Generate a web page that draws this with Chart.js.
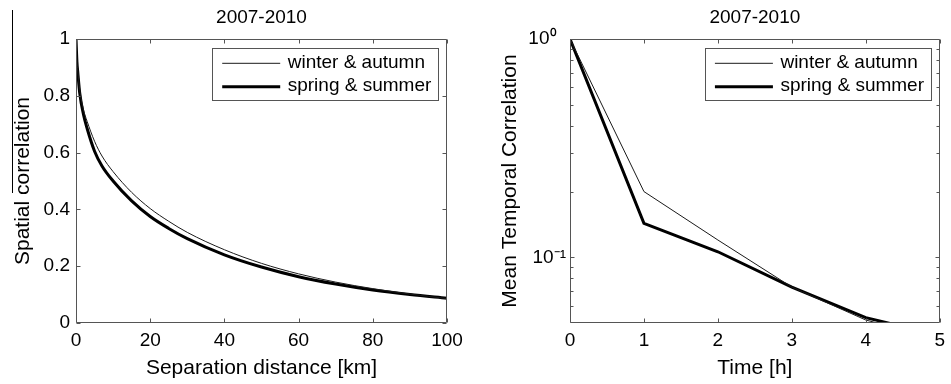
<!DOCTYPE html>
<html><head><meta charset="utf-8">
<script src="https://cdn.jsdelivr.net/npm/chart.js@4"></script>
<style>
body{margin:0;background:#fff;}
#wrap{position:relative;width:951px;height:384px;overflow:hidden;}
canvas{position:absolute;top:0;}
</style>
</head><body>
<div id="wrap">
<canvas id="c1" width="480" height="384" style="left:0"></canvas>
<canvas id="c2" width="471" height="384" style="left:480px"></canvas>
</div>
<script>
const FONT = '"Liberation Sans", Arial, Helvetica, sans-serif';

// ---- shared ----
const chartTitle = '2007-2010';
const seriesLabels = ['winter & autumn', 'spring & summer'];

// ---- left panel: spatial correlation ----
const distanceKm = [0, 0.25, 0.5, 1, 2, 3, 5, 7, 10, 15, 20, 25, 30, 40, 50, 60, 70, 80, 90, 100];
const spatialWinterAutumn = [1, 0.925, 0.887, 0.822, 0.752, 0.71, 0.64, 0.588, 0.533, 0.46, 0.403, 0.358, 0.319, 0.258, 0.21, 0.173, 0.144, 0.121, 0.102, 0.086];
const spatialSpringSummer = [1, 0.92, 0.88, 0.81, 0.735, 0.685, 0.605, 0.553, 0.50, 0.43, 0.375, 0.333, 0.297, 0.24, 0.197, 0.163, 0.137, 0.116, 0.1, 0.087];
const distanceTicks = [0, 20, 40, 60, 80, 100];
const spatialTicks = [0, 0.2, 0.4, 0.6, 0.8, 1];
const spatialTickLabels = ['0', '0.2', '0.4', '0.6', '0.8', '1'];

// ---- right panel: temporal correlation ----
const timeH = [0, 1, 2, 3, 4, 5];
const temporalWinterAutumn = [1, 0.2, 0.12, 0.073, 0.0516, 0.0422];
const temporalSpringSummer = [1, 0.143, 0.106, 0.073, 0.0529, 0.0439];
const timeTicks = [0, 1, 2, 3, 4, 5];
const timeTickLabels = ['0', '1', '2', '3', '4', '5'];
const temporalTicks = [0.1, 1];
const temporalTickLabels = ['10\u207B\u00B9', '10\u2070\u2002'];
const temporalMinorTicks = [0.06, 0.07, 0.08, 0.09, 0.2, 0.3, 0.4, 0.5, 0.6, 0.7, 0.8, 0.9];

const FRAME = '#555';

const framePlugin = {
  id: 'matlabFrame',
  afterDatasetsDraw(chart, args, opts) {
    const {ctx, chartArea: a} = chart;
    const xs = chart.scales.x, ys = chart.scales.y;
    ctx.save();
    ctx.strokeStyle = FRAME;
    ctx.lineWidth = 1;
    const L = Math.round(a.left) + 0.5, R = Math.round(a.right) - 0.5;
    const T = Math.round(a.top) + 0.5, B = Math.round(a.bottom) - 0.5;
    ctx.beginPath();
    ctx.rect(L, T, R - L, B - T);
    ctx.stroke();
    const major = 4, minor = 3;
    ctx.beginPath();
    (opts.xTicks || []).forEach(v => {
      const p = Math.round(xs.getPixelForValue(v)) + 0.5;
      ctx.moveTo(p, B); ctx.lineTo(p, B - major);
      ctx.moveTo(p, T); ctx.lineTo(p, T + major);
    });
    (opts.yTicks || []).forEach(v => {
      const p = Math.round(ys.getPixelForValue(v)) + 0.5;
      ctx.moveTo(L, p); ctx.lineTo(L + major, p);
      ctx.moveTo(R, p); ctx.lineTo(R - major, p);
    });
    (opts.yMinor || []).forEach(v => {
      const p = Math.round(ys.getPixelForValue(v)) + 0.5;
      ctx.moveTo(L, p); ctx.lineTo(L + minor, p);
      ctx.moveTo(R, p); ctx.lineTo(R - minor, p);
    });
    ctx.stroke();

    // legend box inside the axes (top right)
    const fs = 19;
    ctx.font = fs + 'px ' + FONT;
    const ds = chart.data.datasets;
    let tw = 0;
    ds.forEach(d => { tw = Math.max(tw, ctx.measureText(d.label).width); });
    const padL = 10, lineLen = 58, gap = 7.5, padR = 7;
    const w = padL + lineLen + gap + tw + padR;
    const h = 52.4;
    const bx = a.right - 8.7 - w, by = a.top + 9.3;
    ctx.fillStyle = '#fff';
    ctx.fillRect(bx, by, w, h);
    ctx.strokeStyle = FRAME;
    ctx.lineWidth = 1;
    ctx.strokeRect(Math.round(bx) + 0.5, Math.round(by) + 0.5, Math.round(w), Math.round(h));
    ds.forEach((d, i) => {
      const ry = by + 15 + i * 23.4;
      ctx.strokeStyle = d.borderColor;
      ctx.lineWidth = d.borderWidth;
      ctx.beginPath();
      ctx.moveTo(bx + padL, ry);
      ctx.lineTo(bx + padL + lineLen, ry);
      ctx.stroke();
      ctx.fillStyle = '#000';
      ctx.textBaseline = 'middle';
      ctx.textAlign = 'left';
      ctx.fillText(d.label, bx + padL + lineLen + gap, ry - 0.5);
    });
    ctx.restore();
  }
};

const overlinePlugin = {
  id: 'overline',
  afterDraw(chart, args, opts) {
    if (!opts.draw) return;
    const {ctx} = chart;
    const ys = chart.scales.y;
    ctx.save();
    ctx.strokeStyle = '#000';
    ctx.lineWidth = 1;
    ctx.beginPath();
    ctx.moveTo(ys.left + 12.5, 10);
    ctx.lineTo(ys.left + 12.5, 193);
    ctx.stroke();
    ctx.restore();
  }
};

function ds(label, xs, ys, thick, smooth) {
  return {
    label,
    data: xs.map((x, i) => ({x, y: ys[i]})),
    borderColor: thick ? '#000' : '#1a1a1a',
    borderWidth: thick ? 3 : 1,
    pointRadius: 0,
    fill: false,
    clip: 0,
    tension: 0,
    cubicInterpolationMode: smooth ? 'monotone' : 'default'
  };
}

function makeOptions(cfg) {
  return {
    responsive: false,
    animation: false,
    devicePixelRatio: 1,
    layout: {padding: {left: 0, right: cfg.padRight, top: 0, bottom: 0}},
    plugins: {
      legend: {display: false},
      tooltip: {enabled: false},
      title: {
        display: true, text: chartTitle, fullSize: false, color: '#000',
        font: {family: FONT, size: 19, weight: 'normal'},
        padding: {top: 6, bottom: 10.2}
      },
      matlabFrame: {xTicks: cfg.xTicks, yTicks: cfg.yTicks, yMinor: cfg.yMinor},
      overline: {draw: !!cfg.overline}
    },
    scales: {
      x: {
        type: 'linear', min: cfg.xMin, max: cfg.xMax,
        grid: {display: false, drawTicks: false}, border: {display: false},
        afterBuildTicks: s => { s.ticks = cfg.xTicks.map(v => ({value: v})); },
        afterFit: s => { s.height = 61; },
        ticks: {
          padding: 6, color: '#000', maxRotation: 0, autoSkip: false,
          font: {family: FONT, size: 19},
          callback: (v, i) => cfg.xLabels[i]
        },
        title: {
          display: true, text: cfg.xTitle, color: '#000',
          font: {family: FONT, size: 21}, padding: {top: 0, bottom: 3}
        }
      },
      y: {
        type: cfg.yType, min: cfg.yMin, max: cfg.yMax,
        grid: {display: false, drawTicks: false}, border: {display: false},
        afterBuildTicks: s => { s.ticks = cfg.yTicks.map(v => ({value: v})); },
        afterFit: s => { s.width = cfg.yWidth; },
        ticks: {
          padding: cfg.yPad, color: '#000', autoSkip: false,
          font: {family: FONT, size: 19},
          callback: (v, i) => cfg.yLabels[i]
        },
        title: {
          display: true, text: cfg.yTitle, color: '#000',
          font: {family: FONT, size: 21}, padding: {top: cfg.yTitlePad, bottom: 0}
        }
      }
    }
  };
}

new Chart(document.getElementById('c1'), {
  type: 'line',
  data: {datasets: [
    ds(seriesLabels[0], distanceKm, spatialWinterAutumn, false, true),
    ds(seriesLabels[1], distanceKm, spatialSpringSummer, true, true)
  ]},
  options: makeOptions({
    padRight: 33, xMin: 0, xMax: 100, xTicks: distanceTicks,
    xLabels: distanceTicks.map(String), xTitle: 'Separation distance [km]',
    yType: 'linear', yMin: 0, yMax: 1, yTicks: spatialTicks, yLabels: spatialTickLabels,
    yMinor: [], yWidth: 76, yPad: 6, yTitle: 'Spatial correlation', yTitlePad: 11,
    overline: true
  }),
  plugins: [framePlugin, overlinePlugin]
});

new Chart(document.getElementById('c2'), {
  type: 'line',
  data: {datasets: [
    ds(seriesLabels[0], timeH, temporalWinterAutumn, false, false),
    ds(seriesLabels[1], timeH, temporalSpringSummer, true, false)
  ]},
  options: makeOptions({
    padRight: 9, xMin: 0, xMax: 5, xTicks: timeTicks,
    xLabels: timeTickLabels, xTitle: 'Time [h]',
    yType: 'logarithmic', yMin: 0.05, yMax: 1, yTicks: temporalTicks, yLabels: temporalTickLabels,
    yMinor: temporalMinorTicks, yWidth: 90, yPad: 4, yTitle: 'Mean Temporal Correlation', yTitlePad: 17.4,
    overline: false
  }),
  plugins: [framePlugin, overlinePlugin]
});
</script>
</body></html>
